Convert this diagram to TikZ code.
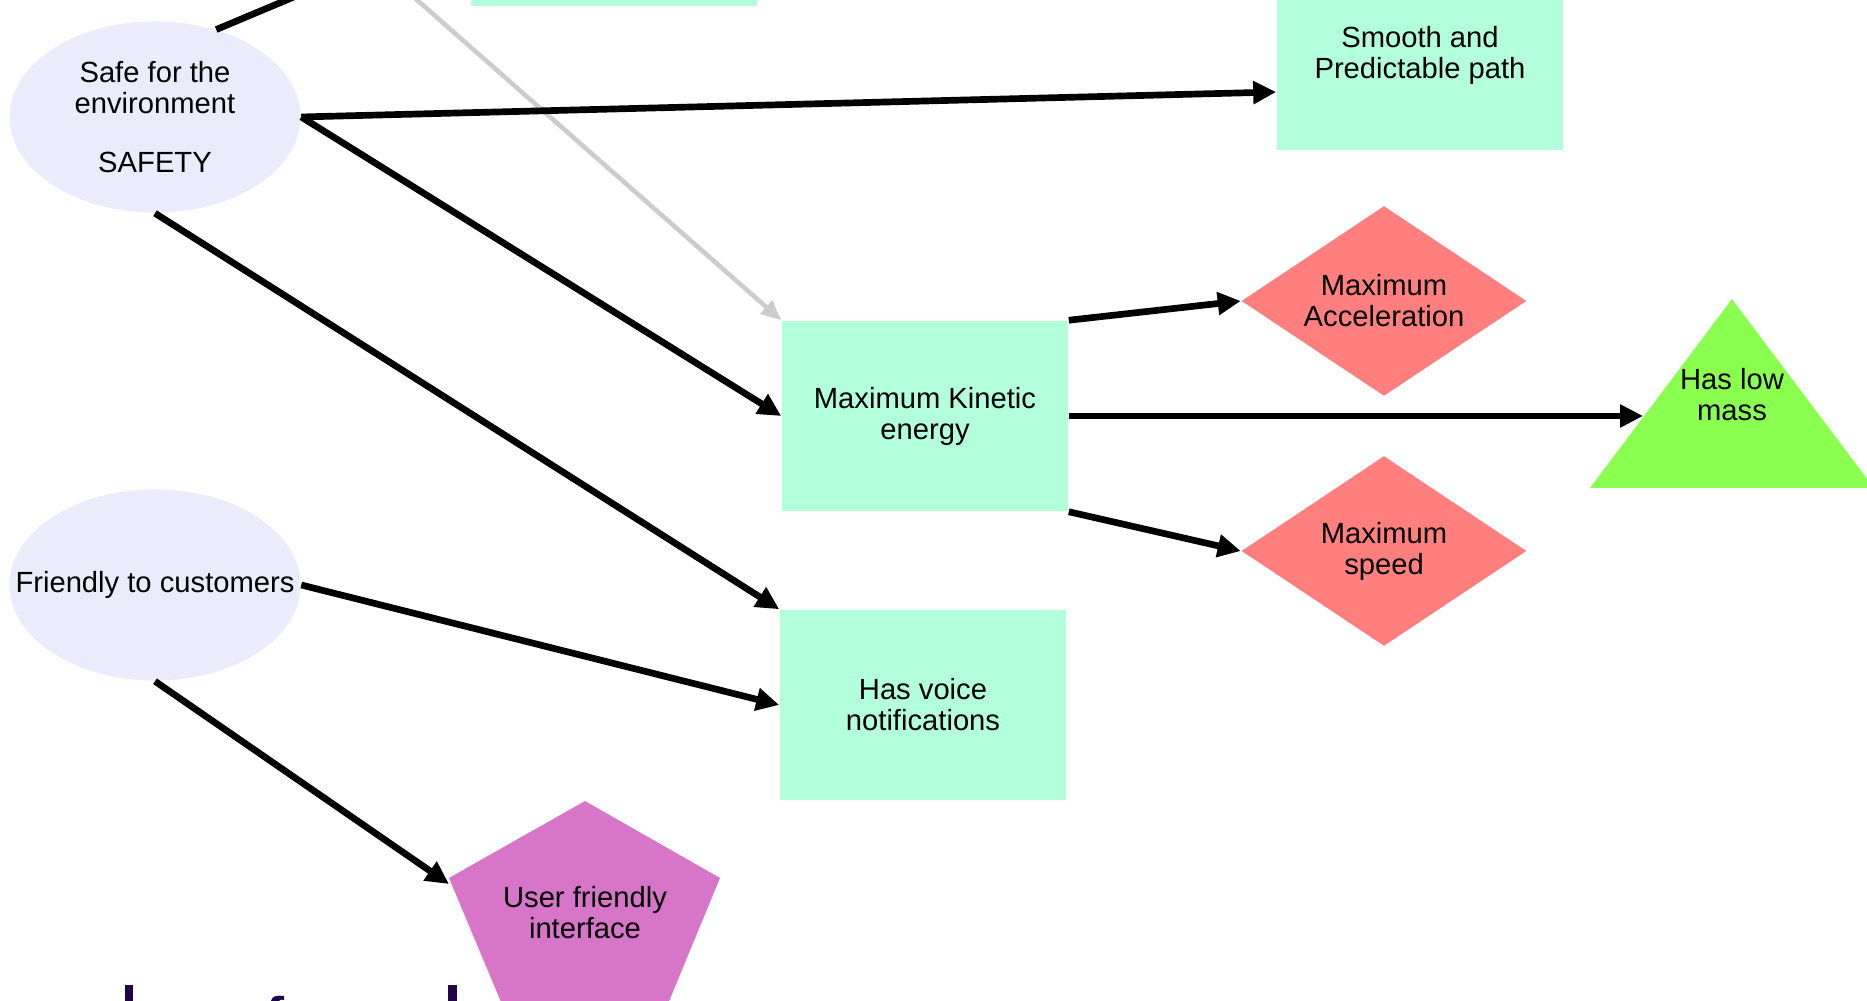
\documentclass[tikz,border=0pt]{standalone}
\usepackage{fontspec}
\setmainfont{Liberation Sans}
\usetikzlibrary{shapes.geometric,arrows.meta}
\definecolor{ellfill}{HTML}{EBEBFB}
\definecolor{boxfill}{HTML}{B3FFDB}
\definecolor{dmfill}{HTML}{FF7F7F}
\definecolor{trifill}{HTML}{8AFF4F}
\definecolor{pentfill}{HTML}{D776C9}
\definecolor{grayline}{HTML}{CCCCCC}
\definecolor{titlecol}{HTML}{1F0545}
\begin{document}
\begin{tikzpicture}[x=0.01cm,y=-0.01cm,
  lbl/.style={font=\fontsize{8.3}{8.8}\selectfont, align=center, text=black},
  ellnode/.style={ellipse, fill=ellfill, minimum width=2.91cm, minimum height=1.91cm, inner sep=0pt},
  boxnode/.style={lbl, rectangle, fill=boxfill, minimum width=2.86cm, minimum height=1.90cm, inner sep=0pt},
  dmnode/.style={lbl, diamond, fill=dmfill, minimum width=2.85cm, minimum height=1.90cm, inner sep=0pt, aspect=1.5},
  conn/.style={line width=1.9pt, -{Triangle[length=0.23cm,width=0.22cm]}},
  plainconn/.style={line width=1.9pt},
  grayconn/.style={line width=1.3pt, grayline, -{Triangle[length=0.2cm,width=0.17cm]}},
  glyph/.style={fill=titlecol}
]
\useasboundingbox (0,0) rectangle (1867,1001);
\fill[white] (0,0) rectangle (1867,1001);

% nodes
\node[ellnode, label={[lbl]center:Safe for the\\environment\\[7.8pt]SAFETY}] (safe) at (155,117) {};
\node[ellnode, label={[lbl]center:Friendly to customers}] (friendly) at (155,585) {};
\node[boxnode] (topbox) at (614,-89) {};
\node[boxnode] (smooth) at (1420,55) {Smooth and\\Predictable path};
\node[boxnode] (kinetic) at (925,416) {Maximum Kinetic\\energy};
\node[boxnode] (voice) at (923,705) {Has voice\\notifications};
\node[dmnode] (acc) at (1384,301) {Maximum\\Acceleration};
\node[dmnode] (speed) at (1384,551) {Maximum\\speed};

% triangle
\fill[trifill] (1590,488) -- (1732,299) -- (1874,488) -- cycle;
\node[lbl] (mass) at (1732,395) {Has low\\mass};
\coordinate (masswest) at (1643,416);

% pentagon
\fill[pentfill] (585,801) -- (720,878) -- (653,1040) -- (517,1040) -- (449,878) -- cycle;
\node[lbl] (ui) at (585,913) {User friendly\\interface};
\coordinate (uiwest) at (449,884);

% partial title glyphs at the bottom
\fill[glyph] (125,985) rectangle (133,1010);
\fill[glyph] (448,985) rectangle (457,1010);
\fill[glyph] (271,1010) -- (271,1001) .. controls (272,996) and (277,995) .. (284,996) -- (284,1000) .. controls (280,999) and (279,1000) .. (279,1003) -- (279,1010) -- cycle;

% off-canvas coordinates
\coordinate (offtop) at (320,-14);
\coordinate (graystart) at (400,-15);

% connectors
\draw[grayconn] (graystart) -- (kinetic.north west);
\draw[plainconn] (safe.55) -- (offtop);
\draw[conn] (safe.east) -- ([yshift=-0.37cm]smooth.west);
\draw[conn] (safe.east) -- (kinetic.west);
\draw[conn] (safe.south) -- (voice.north west);
\draw[conn] (friendly.east) -- (voice.west);
\draw[conn] (friendly.south) -- (uiwest);
\draw[conn] (kinetic.north east) -- (acc.west);
\draw[conn] (kinetic.east) -- (masswest);
\draw[conn] (kinetic.south east) -- (speed.west);
\end{tikzpicture}
\end{document}
